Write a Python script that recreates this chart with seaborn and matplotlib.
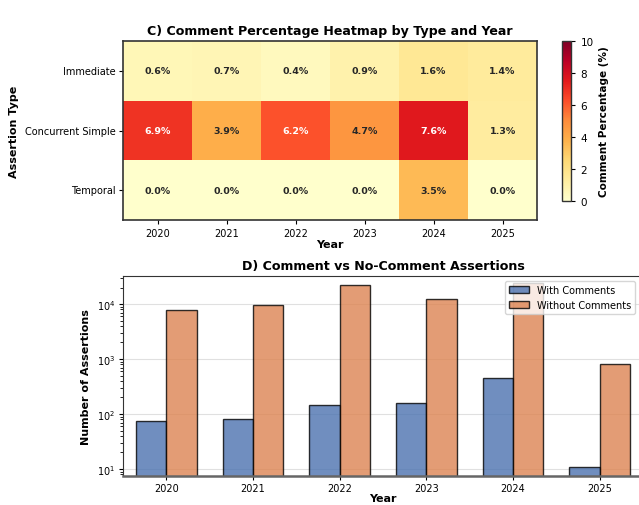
import numpy as np
import pandas as pd
import matplotlib
matplotlib.use("Agg")
import matplotlib.pyplot as plt
import seaborn as sns

# ---- data ----
years = ["2020", "2021", "2022", "2023", "2024", "2025"]
assertion_types = ["Immediate", "Concurrent Simple", "Temporal"]
pct_immediate = [0.6, 0.7, 0.4, 0.9, 1.6, 1.4]
pct_concurrent = [6.9, 3.9, 6.2, 4.7, 7.6, 1.3]
pct_temporal = [0.0, 0.0, 0.0, 0.0, 3.5, 0.0]
with_comments = [75, 80, 143, 158, 452, 11]
without_comments = [7800, 9700, 22100, 12600, 24500, 820]
series_labels = ["With Comments", "Without Comments"]

plt.rcParams['font.family'] = ['DejaVu Sans']

fig = plt.figure(figsize=(6.39, 5.06), dpi=100)

# ---- heatmap ----
heat = pd.DataFrame([pct_immediate, pct_concurrent, pct_temporal],
                    index=assertion_types, columns=years)
labels = heat.map(lambda v: f"{v:.1f}%")

ax1 = fig.add_axes([0.1925, 0.5632, 0.648, 0.3538])
cax = fig.add_axes([0.880, 0.6014, 0.0141, 0.3152])
sns.heatmap(heat, ax=ax1, cbar_ax=cax, cmap="YlOrRd", vmin=0, vmax=10,
            annot=labels.values, fmt="", annot_kws={"size": 6.8, "weight": "bold"},
            cbar_kws={"label": "Comment Percentage (%)"})
for s in ax1.spines.values():
    s.set_visible(True)
    s.set_color("#333333")
    s.set_linewidth(1.2)
ax1.set_title("C) Comment Percentage Heatmap by Type and Year",
              fontsize=9.1, fontweight="bold", pad=5)
ax1.set_xlabel("Year", fontsize=8, fontweight="bold", labelpad=1)
ax1.set_ylabel("Assertion Type", fontsize=8, fontweight="bold")
ax1.tick_params(axis="both", labelsize=7, length=3, pad=2.5)
ax1.set_yticklabels(ax1.get_yticklabels(), rotation=0)
ax1.set_xticklabels(ax1.get_xticklabels(), rotation=0)
cax.tick_params(labelsize=7.5, length=3)
cax.set_ylabel("Comment Percentage (%)", fontsize=7.5, fontweight="bold")
cax.yaxis.set_ticks([0, 2, 4, 6, 8, 10])
cb = ax1.collections[0].colorbar
cb.outline.set_edgecolor("#333333")
cb.outline.set_linewidth(1)

# ---- grouped bar chart ----
long = pd.DataFrame({
    "Year": years * 2,
    "Count": with_comments + without_comments,
    "Type": [series_labels[0]] * len(years) + [series_labels[1]] * len(years),
})
ax2 = fig.add_axes([0.1925, 0.0579, 0.814, 0.3941])
sns.barplot(data=long, x="Year", y="Count", hue="Type", ax=ax2,
            palette=["#4C72B0", "#DD8452"], saturation=1, width=0.7, alpha=0.8,
            edgecolor="black", linewidth=1, errorbar=None)
ax2.set_yscale("log")
ax2.set_ylim(7.55, 32000)
ax2.set_axisbelow(True)
ax2.grid(axis="y", which="major", color="#cccccc", alpha=0.6, linewidth=0.8)
ax2.set_title("D) Comment vs No-Comment Assertions",
              fontsize=9.1, fontweight="bold", pad=5)
ax2.set_xlabel("Year", fontsize=8, fontweight="bold", labelpad=0)
ax2.set_ylabel("Number of Assertions", fontsize=8, fontweight="bold")
ax2.tick_params(axis="both", which="major", labelsize=7, length=3, pad=2.5)
ax2.tick_params(axis="y", which="minor", length=2)
for s in ax2.spines.values():
    s.set_color("#333333")
ax2.spines["bottom"].set_color("#666666")
ax2.spines["bottom"].set_linewidth(1.8)
ax2.legend(loc="upper right", fontsize=7, framealpha=0.8,
           borderpad=0.4, handlelength=2, bbox_to_anchor=(0.993, 1.0))

fig.savefig("out.png", dpi=100)
